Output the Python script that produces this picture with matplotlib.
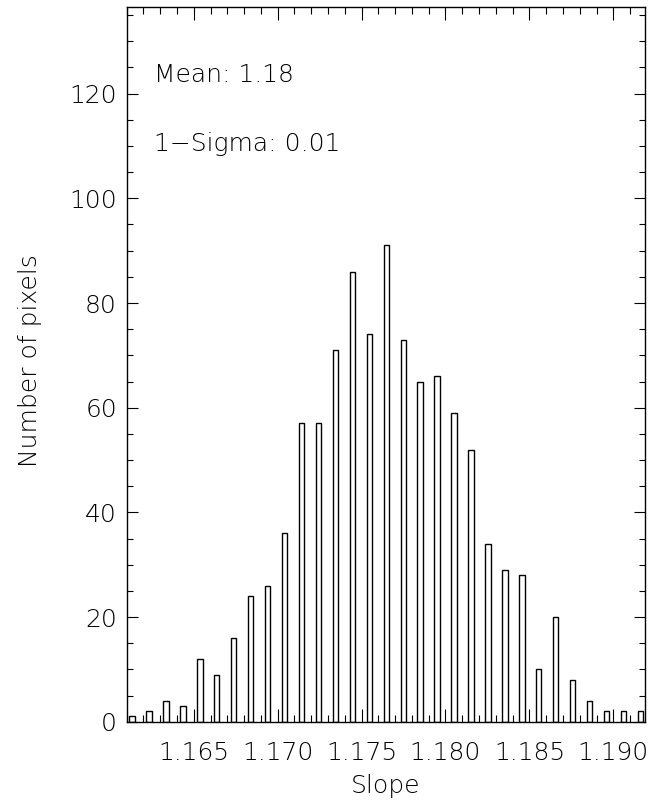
import matplotlib
matplotlib.use("Agg")
import matplotlib.pyplot as plt
from matplotlib.ticker import MultipleLocator, FormatStrFormatter

plt.rcParams['font.family'] = ['DejaVu Sans']

# Histogram bin centres (slope values) and counts
bin_centers = [1.16132, 1.16233, 1.16334, 1.16435, 1.16536, 1.16637, 1.16738,
               1.16839, 1.16940, 1.17041, 1.17142, 1.17243, 1.17344, 1.17445,
               1.17546, 1.17647, 1.17748, 1.17849, 1.17950, 1.18051, 1.18152,
               1.18253, 1.18354, 1.18455, 1.18556, 1.18657, 1.18758, 1.18859,
               1.18960, 1.19061, 1.19162]
counts = [1, 2, 4, 3, 12, 9, 16, 24, 26, 36, 57, 57, 71, 86, 74, 91, 73,
          65, 66, 59, 52, 34, 29, 28, 10, 20, 8, 4, 2, 2, 2]

mean_text = "Mean: 1.18"
sigma_text = "1\u2212Sigma: 0.01"
x_label = "Slope"
y_label = "Number of pixels"

W, H = 664, 807
fig = plt.figure(figsize=(W / 100, H / 100), dpi=100)
ax_l, ax_r, ax_t, ax_b = 126.7, 645.0, 7.3, 721.7
ax = fig.add_axes([ax_l / W, 1 - ax_b / H, (ax_r - ax_l) / W, (ax_b - ax_t) / H])

ax.bar(bin_centers, counts, width=0.00032, fill=False, edgecolor='black',
       linewidth=1.0, align='center')

ax.set_xlim(1.16100, 1.19189)
ax.set_ylim(0, 136.5)

ax.xaxis.set_major_locator(MultipleLocator(0.005))
ax.xaxis.set_minor_locator(MultipleLocator(0.001))
ax.xaxis.set_major_formatter(FormatStrFormatter('%.3f'))
ax.yaxis.set_major_locator(MultipleLocator(20))
ax.yaxis.set_minor_locator(MultipleLocator(5))
ax.yaxis.set_major_formatter(FormatStrFormatter('%d'))

for s in ax.spines.values():
    s.set_linewidth(1.0)
    s.set_color('black')

ax.tick_params(axis='x', which='major', direction='in', length=9.6, width=0.8,
               top=True, bottom=True, pad=14, labelsize=18)
ax.tick_params(axis='x', which='minor', direction='in', length=4.8, width=0.8,
               top=True, bottom=True)
ax.tick_params(axis='y', which='major', direction='in', length=7.7, width=0.8,
               left=True, right=True, pad=7, labelsize=18)
ax.tick_params(axis='y', which='minor', direction='in', length=4.1, width=0.8,
               left=True, right=True)
for lab in ax.get_xticklabels() + ax.get_yticklabels():
    lab.set_fontweight('light')

ax.set_xlabel(x_label, fontsize=18, fontweight='light')
ax.set_ylabel(y_label, fontsize=18, fontweight='light')
ax.xaxis.set_label_coords(0.5, -0.073)
ax.yaxis.set_label_coords(-0.163, 0.505)

ax.text(1.16263, 122.3, mean_text, fontsize=18, fontweight='light',
        ha='left', va='baseline')
ax.text(1.16263, 109.0, sigma_text, fontsize=18, fontweight='light',
        ha='left', va='baseline')

fig.savefig("out.png", dpi=100)
